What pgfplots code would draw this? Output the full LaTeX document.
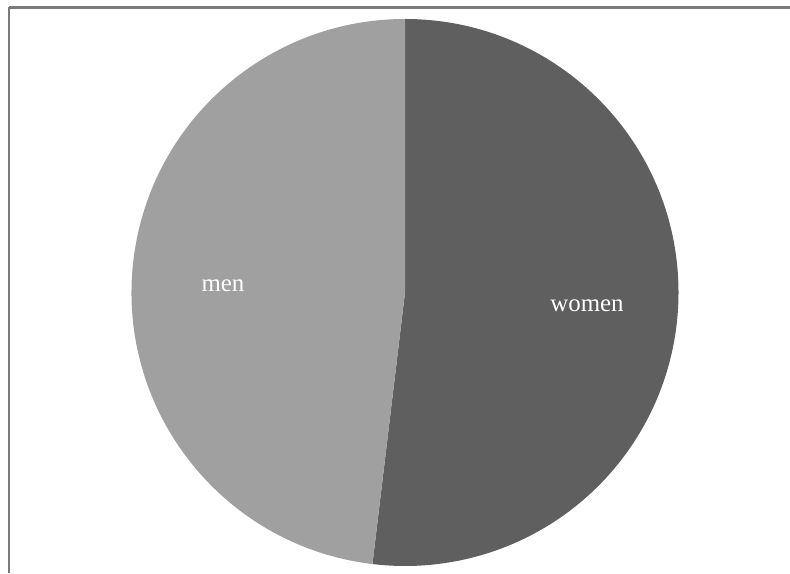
\documentclass[border=0pt]{standalone}
\usepackage{pgfplots}
\pgfplotsset{compat=1.18}
\usepackage{pgfplotstable}
\usepackage{fontspec}
\setmainfont{Liberation Serif}
\definecolor{womencol}{HTML}{5F5F5F}
\definecolor{mencol}{HTML}{A0A0A0}
\definecolor{framecol}{HTML}{7A7A7A}
\pgfplotstableread{
label value
women 51.9
men 48.1
}\piedata
\begin{document}
\begin{tikzpicture}
\pgfplotstablegetelem{0}{value}\of\piedata \let\vw\pgfplotsretval
\pgfplotstablegetelem{1}{value}\of\piedata \let\vm\pgfplotsretval
\pgfmathsetmacro{\fw}{\vw/(\vw+\vm)}
\pgfmathsetmacro{\aw}{90-360*\fw}
\begin{axis}[
  scale only axis, width=790bp, height=573bp,
  xmin=0, xmax=790, ymin=0, ymax=573,
  hide axis, clip=true,
]
\path (axis cs:0,0) rectangle (axis cs:790,573);
% frame (top and left edges)
\draw[framecol, line width=2.4bp] (axis cs:9,565.5) -- (axis cs:790,565.5);
\draw[framecol, line width=2.4bp] (axis cs:9,565.5) -- (axis cs:9,0);
% women slice: clockwise from 12 o'clock
\fill[womencol] (axis cs:405,280.5) -- ++(90:273.5bp) arc[start angle=90, end angle=\aw, radius=273.5bp] -- cycle;
% men slice
\fill[mencol] (axis cs:405,280.5) -- ++(\aw:273.5bp) arc[start angle=\aw, end angle=-270, radius=273.5bp] -- cycle;
\node[white, font=\fontsize{25}{29}\selectfont] at (axis cs:223,287) {men};
\node[white, font=\fontsize{25}{29}\selectfont] at (axis cs:587,267) {women};
\end{axis}
\end{tikzpicture}
\end{document}
